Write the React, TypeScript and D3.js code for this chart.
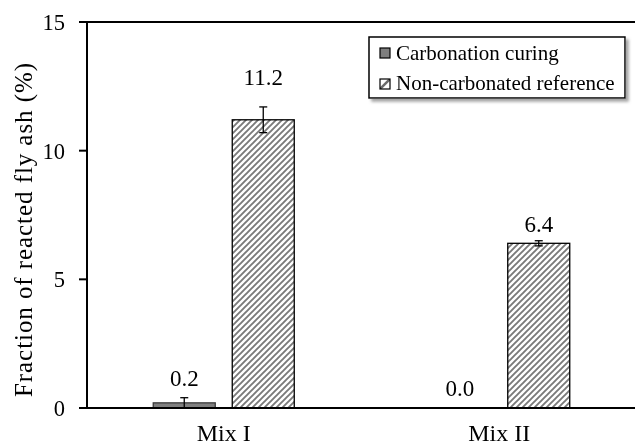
import React from "react";
import * as d3 from "d3";

const mixes = ["Mix I", "Mix II"];
const seriesNames = ["Carbonation curing", "Non-carbonated reference"];
const carbonationValues = [0.2, 0.0];
const carbonationErrors = [0.2, 0];
const referenceValues = [11.2, 6.4];
const referenceErrors = [0.5, 0.1];
const yTicks = [0, 5, 10, 15];

const W = 635;
const H = 448;
const FONT = "Liberation Serif, DejaVu Serif, serif";

export default function App() {
  const left = 87;
  const top = 22;
  const bottom = 408;

  const x = d3.scaleBand<string>().domain(mixes).range([86, 637]);
  const y = d3.scaleLinear().domain([0, 15]).range([bottom, top]);
  const barW = 62;
  const offset = 39.5;

  const series = [
    { name: seriesNames[0], values: carbonationValues, errors: carbonationErrors, dx: -offset, fill: "#7f7f7f", stroke: "#3a3a3a", labelDy: [17, 12] },
    { name: seriesNames[1], values: referenceValues, errors: referenceErrors, dx: offset, fill: "url(#hatch)", stroke: "#000", labelDy: [35, 11] },
  ];

  return (
    <svg
      width={W}
      height={H}
      style={{ position: "fixed", left: 0, top: 0, display: "block" }}
      fontFamily={FONT}
    >
      <defs>
        <pattern id="hatch" patternUnits="userSpaceOnUse" width={6} height={6}>
          <rect width={6} height={6} fill="#fff" />
          <path d="M-1,7 L7,-1 M-1,1 L1,-1 M5,7 L7,5" stroke="#7a7a7a" strokeWidth={1.9} />
        </pattern>
        <pattern id="hatchSmall" patternUnits="userSpaceOnUse" width={10} height={10} x={380} y={79}>
          <rect width={10} height={10} fill="#fff" />
          <path d="M0,10 L10,0" stroke="#6a6a6a" strokeWidth={2.5} />
        </pattern>
        <filter id="shadow" x="-10%" y="-20%" width="130%" height="160%">
          <feDropShadow dx={3} dy={3} stdDeviation={1.8} floodColor="#9a9a9a" floodOpacity={0.9} />
        </filter>
      </defs>

      {/* bars */}
      {series.map((s) =>
        mixes.map((m, i) => {
          const cx = (x(m) as number) + x.bandwidth() / 2 + s.dx;
          const v = s.values[i];
          if (v <= 0) return null;
          return (
            <rect
              key={s.name + m}
              x={cx - barW / 2}
              y={y(v)}
              width={barW}
              height={y(0) - y(v)}
              fill={s.fill}
              stroke={s.stroke}
              strokeWidth={1.3}
            />
          );
        })
      )}

      {/* error bars */}
      {series.map((s) =>
        mixes.map((m, i) => {
          const e = s.errors[i];
          if (e <= 0) return null;
          const cx = (x(m) as number) + x.bandwidth() / 2 + s.dx;
          const v = s.values[i];
          const y1 = y(v + e);
          const y0 = y(Math.max(0, v - e));
          return (
            <g key={"err" + s.name + m} stroke="#000" strokeWidth={1.3}>
              <line x1={cx} x2={cx} y1={y1} y2={y0} />
              <line x1={cx - 4} x2={cx + 4} y1={y1} y2={y1} />
              <line x1={cx - 4} x2={cx + 4} y1={y0} y2={y0} />
            </g>
          );
        })
      )}

      {/* value labels */}
      {series.map((s) =>
        mixes.map((m, i) => {
          const cx = (x(m) as number) + x.bandwidth() / 2 + s.dx;
          const v = s.values[i];
          return (
            <text
              key={"lab" + s.name + m}
              x={cx}
              y={y(v) - s.labelDy[i]}
              textAnchor="middle"
              fontSize={23}
              fontFamily={FONT}
              fill="#000"
            >
              {v.toFixed(1)}
            </text>
          );
        })
      )}

      {/* axes frame */}
      <line x1={left} x2={W} y1={top} y2={top} stroke="#000" strokeWidth={2} />
      <line x1={left} x2={W} y1={bottom} y2={bottom} stroke="#000" strokeWidth={2} />
      <line x1={left} x2={left} y1={top - 1} y2={bottom + 1} stroke="#000" strokeWidth={2} />

      {yTicks.map((t) => (
        <g key={"t" + t}>
          <line x1={79} x2={left} y1={y(t)} y2={y(t)} stroke="#000" strokeWidth={2} />
          <text x={65} y={y(t)} dy="0.35em" textAnchor="end" fontSize={22.5} fontFamily={FONT} fill="#000">
            {t}
          </text>
        </g>
      ))}

      {mixes.map((m) => (
        <text
          key={"x" + m}
          x={(x(m) as number) + x.bandwidth() / 2}
          y={441}
          textAnchor="middle"
          fontSize={24}
          fontFamily={FONT}
          fill="#000"
        >
          {m}
        </text>
      ))}

      <text
        transform={`translate(32,230) rotate(-90)`}
        textAnchor="middle"
        fontSize={25}
        fontFamily={FONT}
        fill="#000"
        textLength={334}
        lengthAdjust="spacing"
      >
        Fraction of reacted fly ash (%)
      </text>

      {/* legend */}
      <g>
        <rect x={369} y={37} width={256} height={61} fill="#fff" stroke="#000" strokeWidth={1.5} filter="url(#shadow)" />
        <rect x={380} y={48} width={10} height={10} fill="#7f7f7f" stroke="#000" strokeWidth={1.2} />
        <text x={396} y={60} fontSize={21} fontFamily={FONT} fill="#000">{seriesNames[0]}</text>
        <rect x={380} y={79} width={10} height={10} fill="url(#hatchSmall)" stroke="#000" strokeWidth={1.2} />
        <text x={396} y={90} fontSize={21} fontFamily={FONT} fill="#000">{seriesNames[1]}</text>
      </g>
    </svg>
  );
}
